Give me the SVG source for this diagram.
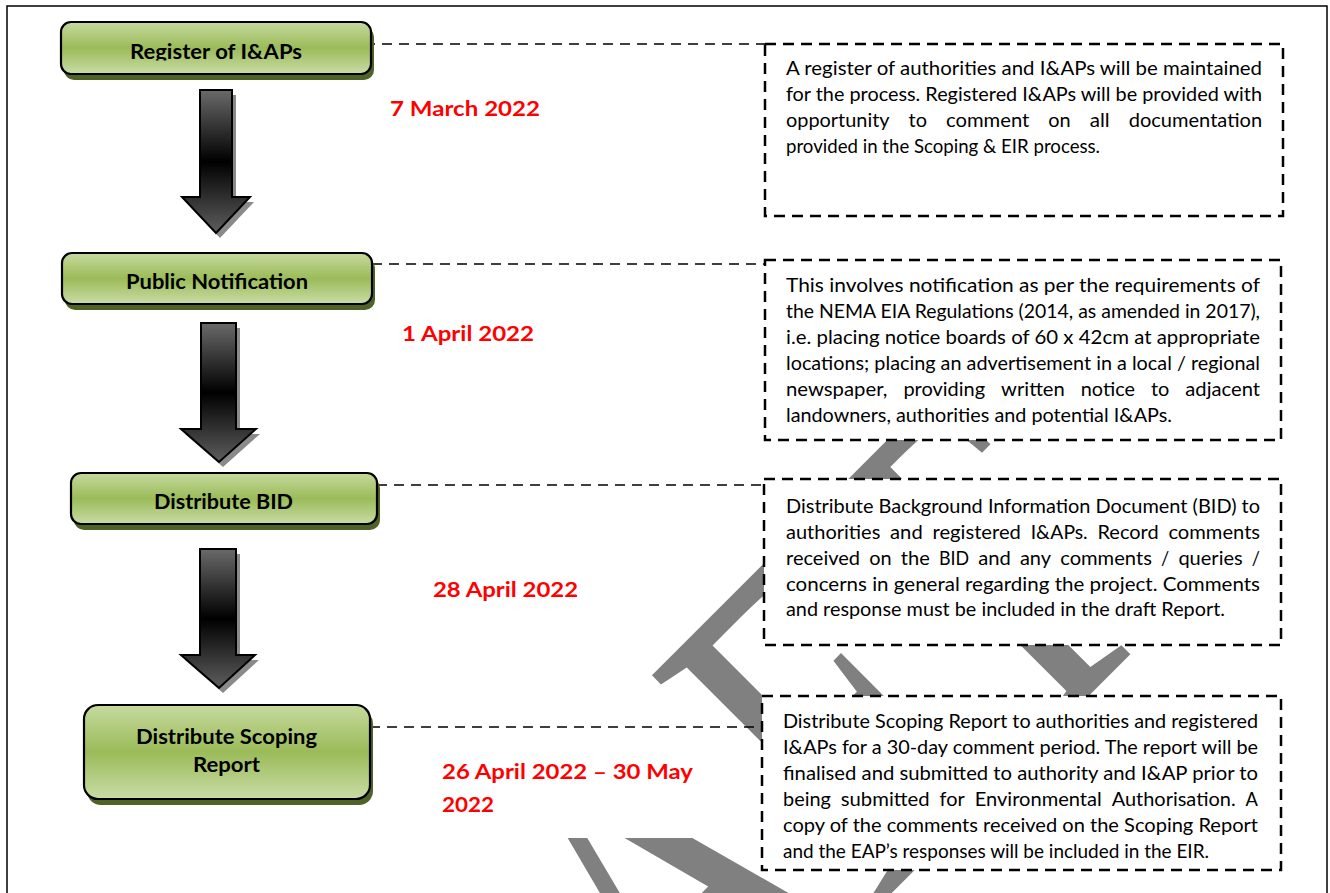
<svg xmlns="http://www.w3.org/2000/svg" width="1330" height="893" viewBox="0 0 1330 893">
<defs>
<style>
.node-text{font-family:Lato,"Liberation Sans",sans-serif;font-weight:bold;font-size:21.5px;fill:#000}
.date{font-family:Lato,"Liberation Sans",sans-serif;font-weight:bold;font-size:21.5px;fill:#ff0000}
.body{font-family:Lato,"Liberation Sans",sans-serif;font-size:19.2px;fill:#000}
.dbox{fill:#fff;stroke:#000;stroke-width:2.5;stroke-dasharray:11 7}
.conn{fill:none;stroke:#000;stroke-width:1.6;stroke-dasharray:10 7}
.node{stroke:#000;stroke-width:2.2;fill:url(#green)}
.nshadow{fill:#4f6228}
.arrow{fill:url(#dark);stroke:#000;stroke-width:2}
.ashadow{fill:#8a8a8a}
</style>
<linearGradient id="green" x1="0" y1="0" x2="0" y2="1">
<stop offset="0" stop-color="#c6da9e"/>
<stop offset="0.5" stop-color="#9bbb59"/>
<stop offset="1" stop-color="#c9dca6"/>
</linearGradient>
<linearGradient id="dark" x1="0" y1="0" x2="0" y2="1">
<stop offset="0" stop-color="#6a6a6a"/>
<stop offset="0.5" stop-color="#000"/>
<stop offset="1" stop-color="#5e5e5e"/>
</linearGradient>
<clipPath id="clip1"><rect x="60" y="20" width="320" height="40.5"/></clipPath>
</defs>
<rect x="0" y="0" width="1330" height="893" fill="#fff"/>
<rect x="7" y="6" width="1320" height="900" fill="none" stroke="#000" stroke-width="1.5"/>

<g id="watermark" transform="rotate(-45) scale(0.727,1)">
<text x="-1080" y="1262" font-family="Liberation Serif" font-size="494" fill="#808080">DRAFT</text>
</g>

<g id="date-masks" fill="#fff">
<rect x="425" y="740" width="325" height="98"/>
</g>

<g id="connectors">
<line class="conn" x1="365" y1="44" x2="765" y2="44"/>
<line class="conn" x1="372" y1="264" x2="766" y2="264"/>
<line class="conn" x1="377" y1="485" x2="765" y2="485"/>
<line class="conn" x1="370" y1="727" x2="762" y2="727"/>
</g>

<g id="arrow1">
<path class="ashadow" d="M204,95 H236 V202 H254 L220,238 L186,202 H204 Z"/>
<path class="arrow" d="M200,90 H232 V197 H250 L216,233 L182,197 H200 Z"/>
</g>
<g id="arrow2">
<path class="ashadow" d="M205,328 H240 V434 H260 L223,467 L185,434 H205 Z"/>
<path class="arrow" d="M201,323 H236 V429 H256 L219,462 L181,429 H201 Z"/>
</g>
<g id="arrow3">
<path class="ashadow" d="M204,554 H240 V660 H259 L223,693 L185,660 H204 Z"/>
<path class="arrow" d="M200,549 H236 V655 H255 L219,688 L181,655 H200 Z"/>
</g>

<g id="node1">
<rect class="nshadow" x="64" y="27" width="310" height="53" rx="10"/>
<rect class="node" x="61" y="22" width="310" height="52" rx="10"/>
<text class="node-text" x="130" y="59" textLength="172" lengthAdjust="spacingAndGlyphs" clip-path="url(#clip1)">Register of I&amp;APs</text>
</g>
<g id="node2">
<rect class="nshadow" x="65" y="258" width="310" height="52" rx="10"/>
<rect class="node" x="62" y="253" width="310" height="51" rx="10"/>
<text class="node-text" x="126" y="289" textLength="182" lengthAdjust="spacingAndGlyphs">Public Notification</text>
</g>
<g id="node3">
<rect class="nshadow" x="74" y="478" width="306" height="52" rx="10"/>
<rect class="node" x="71" y="473" width="306" height="51" rx="10"/>
<text class="node-text" x="154" y="509" textLength="139" lengthAdjust="spacingAndGlyphs">Distribute BID</text>
</g>
<g id="node4">
<rect class="nshadow" x="87" y="710" width="286" height="95" rx="14"/>
<rect class="node" x="84" y="705" width="286" height="94" rx="14"/>
<text class="node-text" x="136" y="744" textLength="181" lengthAdjust="spacingAndGlyphs">Distribute Scoping</text>
<text class="node-text" x="193" y="772" textLength="67" lengthAdjust="spacingAndGlyphs">Report</text>
</g>

<g id="date1"><text class="date" x="390" y="116" textLength="150" lengthAdjust="spacingAndGlyphs">7 March 2022</text></g>
<g id="date2"><text class="date" x="402" y="341" textLength="132" lengthAdjust="spacingAndGlyphs">1 April 2022</text></g>
<g id="date3"><text class="date" x="433" y="597" textLength="145" lengthAdjust="spacingAndGlyphs">28 April 2022</text></g>
<g id="date4">
<text class="date" x="442" y="779" textLength="251" lengthAdjust="spacingAndGlyphs">26 April 2022 – 30 May</text>
<text class="date" x="442" y="812" textLength="52" lengthAdjust="spacingAndGlyphs">2022</text>
</g>

<g id="box1">
<rect class="dbox" x="765" y="44" width="518" height="172"/>
<text class="body" x="786" y="75" textLength="476" lengthAdjust="spacingAndGlyphs">A register of authorities and I&amp;APs will be maintained</text>
<text class="body" x="786" y="101" textLength="476" lengthAdjust="spacingAndGlyphs">for the process. Registered I&amp;APs will be provided with</text>
<g class="body">
<text class="body" x="786" y="127" textLength="103.6" lengthAdjust="spacingAndGlyphs">opportunity</text>
<text class="body" x="908.6" y="127" textLength="18.4" lengthAdjust="spacingAndGlyphs">to</text>
<text class="body" x="946" y="127" textLength="83.3" lengthAdjust="spacingAndGlyphs">comment</text>
<text class="body" x="1048.3" y="127" textLength="22.4" lengthAdjust="spacingAndGlyphs">on</text>
<text class="body" x="1089.7" y="127" textLength="20" lengthAdjust="spacingAndGlyphs">all</text>
<text class="body" x="1128.7" y="127" textLength="133.4" lengthAdjust="spacingAndGlyphs">documentation</text>
</g>
<text class="body" x="786" y="153" textLength="314" lengthAdjust="spacingAndGlyphs">provided in the Scoping &amp; EIR process.</text>
</g>
<g id="box2">
<rect class="dbox" x="765" y="260" width="516" height="180"/>
<text class="body" x="786" y="292" textLength="474" lengthAdjust="spacingAndGlyphs">This involves notification as per the requirements of</text>
<text class="body" x="786" y="318" textLength="474" lengthAdjust="spacingAndGlyphs">the NEMA EIA Regulations (2014, as amended in 2017),</text>
<text class="body" x="786" y="344" textLength="474" lengthAdjust="spacingAndGlyphs">i.e. placing notice boards of 60 x 42cm at appropriate</text>
<text class="body" x="786" y="370" textLength="474" lengthAdjust="spacingAndGlyphs">locations; placing an advertisement in a local / regional</text>
<g>
<text class="body" x="786" y="396" textLength="101.4" lengthAdjust="spacingAndGlyphs">newspaper,</text>
<text class="body" x="903.4" y="396" textLength="81.7" lengthAdjust="spacingAndGlyphs">providing</text>
<text class="body" x="1001.1" y="396" textLength="63.7" lengthAdjust="spacingAndGlyphs">written</text>
<text class="body" x="1080.8" y="396" textLength="54.1" lengthAdjust="spacingAndGlyphs">notice</text>
<text class="body" x="1150.9" y="396" textLength="18.4" lengthAdjust="spacingAndGlyphs">to</text>
<text class="body" x="1185.3" y="396" textLength="74.7" lengthAdjust="spacingAndGlyphs">adjacent</text>
</g>
<text class="body" x="786" y="422" textLength="386" lengthAdjust="spacingAndGlyphs">landowners, authorities and potential I&amp;APs.</text>
</g>
<g id="box3">
<rect class="dbox" x="764" y="479" width="517" height="166"/>
<text class="body" x="786" y="513" textLength="474" lengthAdjust="spacingAndGlyphs">Distribute Background Information Document (BID) to</text>
<g>
<text class="body" x="786" y="539" textLength="94.3" lengthAdjust="spacingAndGlyphs">authorities</text>
<text class="body" x="890.1" y="539" textLength="32.6" lengthAdjust="spacingAndGlyphs">and</text>
<text class="body" x="932.5" y="539" textLength="88.4" lengthAdjust="spacingAndGlyphs">registered</text>
<text class="body" x="1030.7" y="539" textLength="57" lengthAdjust="spacingAndGlyphs">I&amp;APs.</text>
<text class="body" x="1097.5" y="539" textLength="61.1" lengthAdjust="spacingAndGlyphs">Record</text>
<text class="body" x="1168.4" y="539" textLength="91.7" lengthAdjust="spacingAndGlyphs">comments</text>
</g>
<g>
<text class="body" x="786" y="565" textLength="74.1" lengthAdjust="spacingAndGlyphs">received</text>
<text class="body" x="869.2" y="565" textLength="22.4" lengthAdjust="spacingAndGlyphs">on</text>
<text class="body" x="900.8" y="565" textLength="29" lengthAdjust="spacingAndGlyphs">the</text>
<text class="body" x="938.9" y="565" textLength="30.1" lengthAdjust="spacingAndGlyphs">BID</text>
<text class="body" x="978.2" y="565" textLength="32.6" lengthAdjust="spacingAndGlyphs">and</text>
<text class="body" x="1019.9" y="565" textLength="31.1" lengthAdjust="spacingAndGlyphs">any</text>
<text class="body" x="1060.2" y="565" textLength="91.7" lengthAdjust="spacingAndGlyphs">comments</text>
<text class="body" x="1161" y="565" textLength="8.2" lengthAdjust="spacingAndGlyphs">/</text>
<text class="body" x="1178.4" y="565" textLength="64.3" lengthAdjust="spacingAndGlyphs">queries</text>
<text class="body" x="1251.8" y="565" textLength="8.2" lengthAdjust="spacingAndGlyphs">/</text>
</g>
<text class="body" x="786" y="591" textLength="474" lengthAdjust="spacingAndGlyphs">concerns in general regarding the project. Comments</text>
<text class="body" x="786" y="616" textLength="439" lengthAdjust="spacingAndGlyphs">and response must be included in the draft Report.</text>
</g>
<g id="box4">
<rect class="dbox" x="762" y="696" width="519" height="174"/>
<text class="body" x="783" y="728" textLength="475" lengthAdjust="spacingAndGlyphs">Distribute Scoping Report to authorities and registered</text>
<text class="body" x="783" y="754" textLength="475" lengthAdjust="spacingAndGlyphs">I&amp;APs for a 30-day comment period. The report will be</text>
<text class="body" x="783" y="780" textLength="475" lengthAdjust="spacingAndGlyphs">finalised and submitted to authority and I&amp;AP prior to</text>
<g>
<text class="body" x="783" y="806" textLength="47.9" lengthAdjust="spacingAndGlyphs">being</text>
<text class="body" x="840.8" y="806" textLength="88.8" lengthAdjust="spacingAndGlyphs">submitted</text>
<text class="body" x="939.6" y="806" textLength="25.2" lengthAdjust="spacingAndGlyphs">for</text>
<text class="body" x="974.7" y="806" textLength="127.1" lengthAdjust="spacingAndGlyphs">Environmental</text>
<text class="body" x="1111.7" y="806" textLength="123.9" lengthAdjust="spacingAndGlyphs">Authorisation.</text>
<text class="body" x="1245.6" y="806" textLength="12.4" lengthAdjust="spacingAndGlyphs">A</text>
</g>
<text class="body" x="783" y="832" textLength="475" lengthAdjust="spacingAndGlyphs">copy of the comments received on the Scoping Report</text>
<text class="body" x="783" y="858" textLength="426" lengthAdjust="spacingAndGlyphs">and the EAP’s responses will be included in the EIR.</text>
</g>
</svg>
